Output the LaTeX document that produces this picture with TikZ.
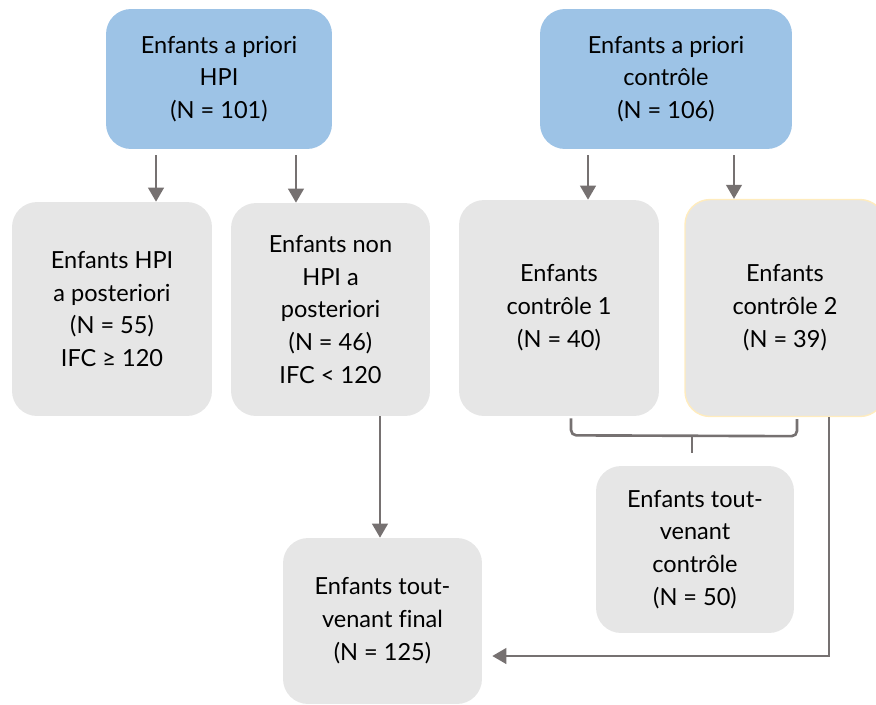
\documentclass[tikz,border=0pt]{standalone}
\usepackage{fontspec}
\setmainfont[Ligatures=NoCommon]{Lato}
\usetikzlibrary{arrows.meta}
\usetikzlibrary{calc}
\definecolor{boxblue}{RGB}{157,195,230}
\definecolor{boxgrey}{RGB}{230,230,230}
\definecolor{linegrey}{RGB}{118,113,113}
\definecolor{paleyellow}{RGB}{255,236,190}
\tikzset{
	% Two node styles for the groups: blue (a priori) and grey (a posteriori)
	blue node/.style={rectangle,rounded corners=0.5cm,fill=boxblue,align=center,inner sep=0},
	grey node/.style={rectangle,rounded corners=0.5cm,fill=boxgrey,align=center,inner sep=0},
	% grey arrow between the groups
	arr/.style={draw=linegrey,line width=1.1pt,-{Triangle[width=9pt,length=8pt]}}
}

\begin{document}
\begin{tikzpicture}[x=0.02cm,y=-0.02cm,font=\fontsize{13.4}{18.7}\selectfont]
\useasboundingbox (0,0) rectangle (876,704);

% top nodes (a priori)
\node(hpi)[blue node,minimum width=4.52cm,minimum height=2.8cm] at (219,79)
	{Enfants a priori\\HPI\\(N = 101)};
\node(ctrl)[blue node,minimum width=5.04cm,minimum height=2.8cm] at (666,79)
	{Enfants a priori\\contrôle\\(N = 106)};

% second row
\node(hpiA)[grey node,minimum width=4cm,minimum height=4.28cm] at (112,309)
	{Enfants HPI\\a posteriori\\(N = 55)\\IFC ≥ 120};
\node(nonhpi)[grey node,minimum width=3.98cm,minimum height=4.26cm] at (330.5,309.5)
	{Enfants non\\HPI a\\posteriori\\(N = 46)\\IFC < 120};
\node(ctrlA)[grey node,minimum width=4cm,minimum height=4.32cm] at (559,308)
	{Enfants\\contrôle 1\\(N = 40)};
\node(ctrlB)[grey node,draw=paleyellow,line width=0.8pt,minimum width=4cm,minimum height=4.34cm] at (785,308)
	{Enfants\\contrôle 2\\(N = 39)};

% bottom nodes
\node(tvctrl)[grey node,minimum width=3.96cm,minimum height=3.34cm] at (695,549.5)
	{Enfants tout-\\venant\\contrôle\\(N = 50)};
\node(final)[grey node,minimum width=3.98cm,minimum height=3.32cm] at (382.5,621)
	{Enfants tout-\\venant final\\(N = 125)};

% arrows from the top nodes
\draw[arr]([xshift=-1.26cm,yshift=-0.12cm]hpi.south)--([xshift=-1.26cm]hpi.south |- hpiA.north);
\draw[arr]([xshift=1.54cm,yshift=-0.12cm]hpi.south)--([xshift=1.54cm]hpi.south |- nonhpi.north);
\draw[arr]([xshift=-1.56cm,yshift=-0.12cm]ctrl.south)--([xshift=-1.56cm]ctrl.south |- ctrlA.north);
\draw[arr]([xshift=1.36cm,yshift=-0.12cm]ctrl.south)--([xshift=1.36cm]ctrl.south |- ctrlB.north);

% non HPI to final
\draw[arr]([xshift=0.99cm]nonhpi.south)--([xshift=0.99cm]nonhpi.south |- final.north);

% brace under the two control groups
\coordinate(bl) at ([xshift=0.24cm,yshift=-0.04cm]ctrlA.south);
\coordinate(br) at ([xshift=0.24cm,yshift=-0.04cm]ctrlB.south);
\draw[linegrey,line width=1.5pt,rounded corners=3pt](bl)--($(bl)+(0,17)$)--($(br)+(0,17)$)--(br);
\draw[linegrey,line width=1.5pt]($(bl)!.5!(br)+(8,17)$)--($(bl)!.5!(br)+(8,34)$);

% control 2 to final
\draw[arr]([xshift=0.88cm]ctrlB.south)|-([xshift=0.2cm,yshift=-0.7cm]final.east);

\end{tikzpicture}
\end{document}
